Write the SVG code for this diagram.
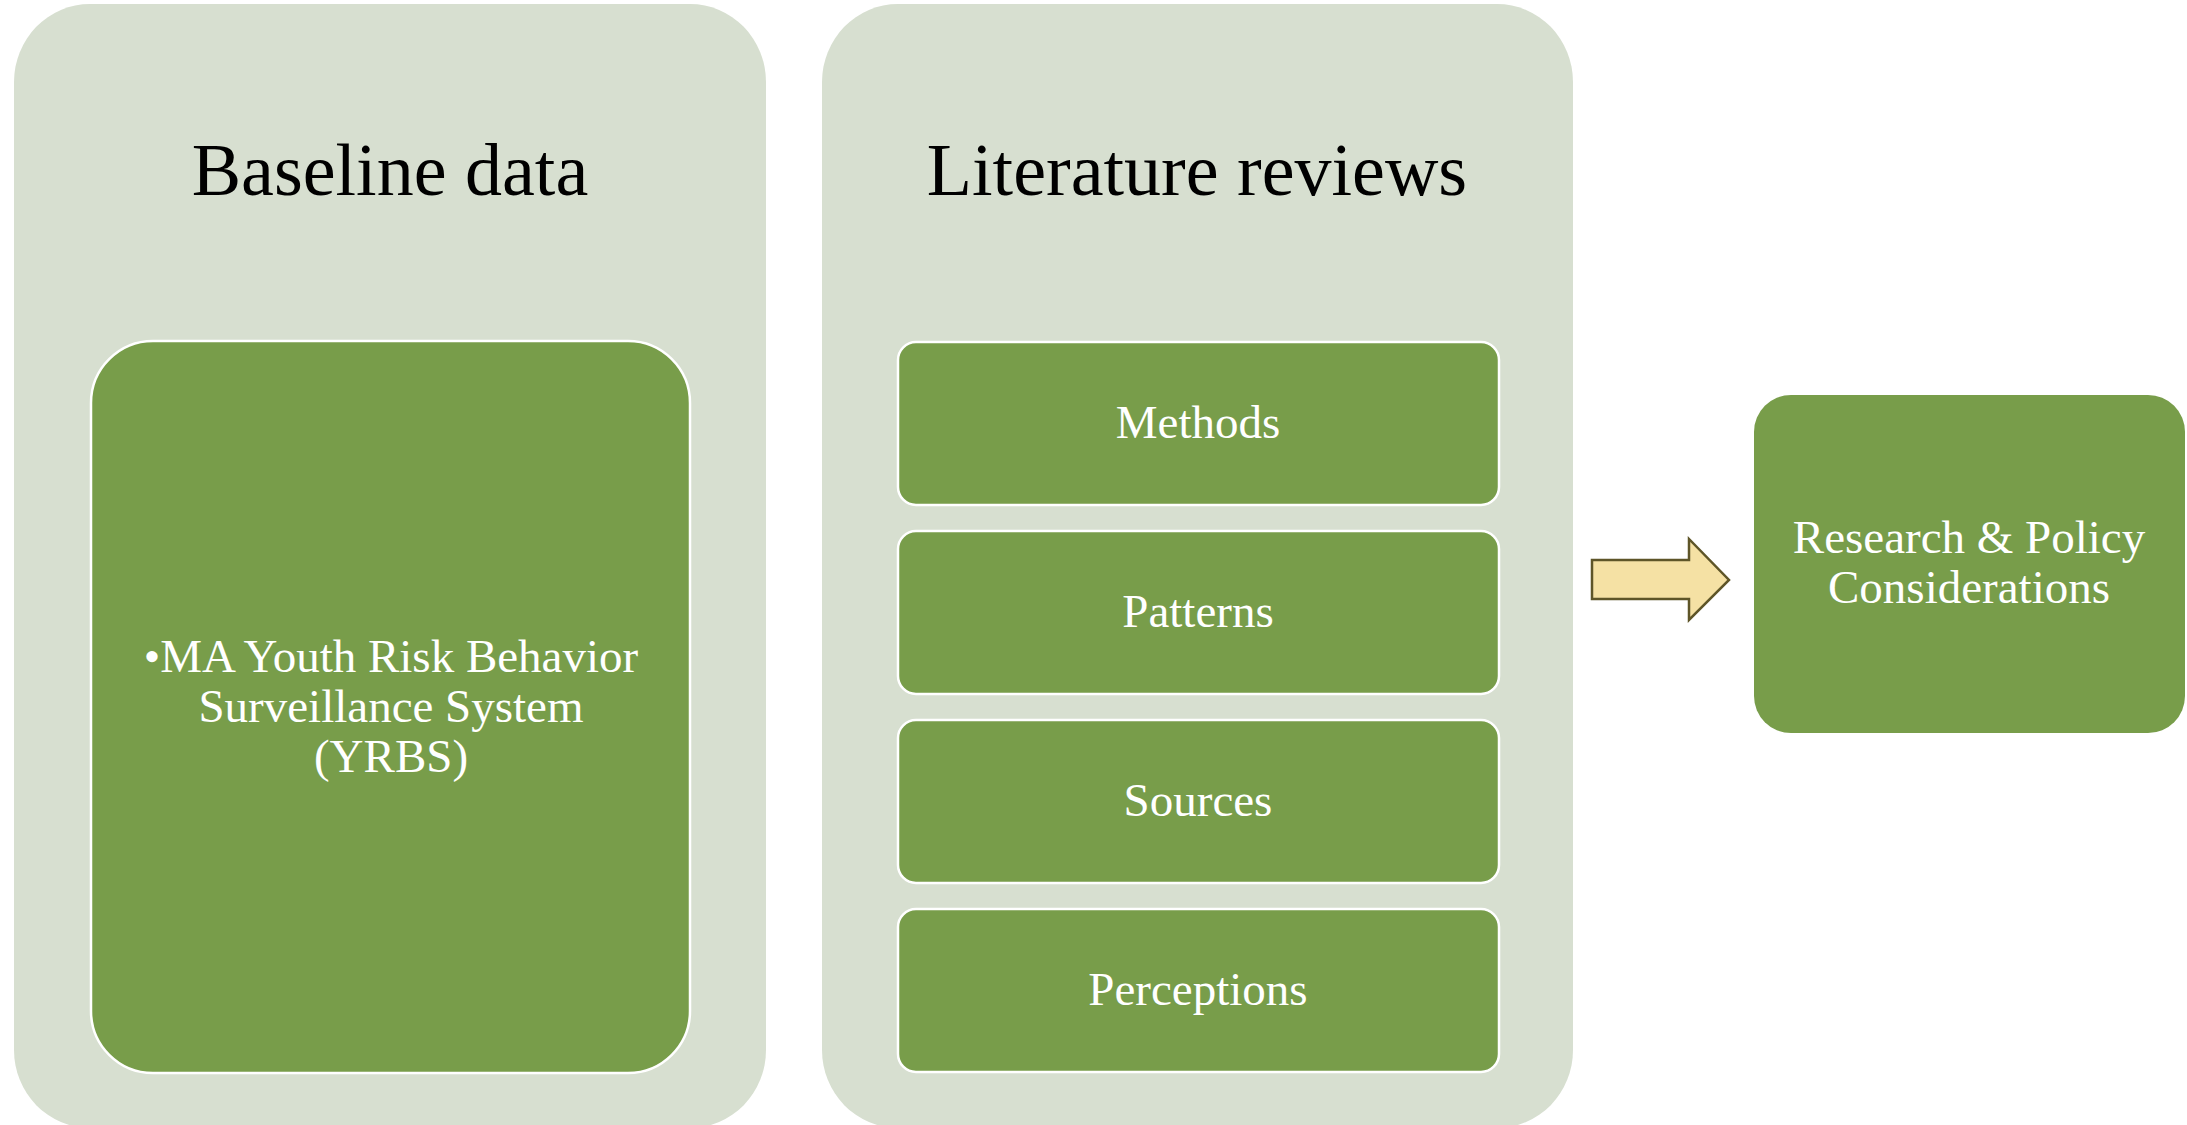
<svg xmlns="http://www.w3.org/2000/svg" width="2187" height="1125" viewBox="0 0 2187 1125">
<style>
.panel{fill:#D7DFD0;}
.inner{fill:#789D4A;stroke:#FFFFFF;stroke-width:2.5;}
.box{fill:#789D4A;}
.t{font-family:"Liberation Serif","Times New Roman",serif;text-anchor:middle;}
.title{font-size:74px;fill:#000000;}
.lbl{font-size:47px;fill:#FFFFFF;}
.arrow{fill:#F5E1A4;stroke:#5E5528;stroke-width:2.5;stroke-linejoin:miter;}
</style>
<rect width="2187" height="1125" fill="#FFFFFF"/>
<g id="baseline-panel">
<rect class="panel" x="14" y="4" width="752" height="1124" rx="76" ry="78"/>
<text class="t title" x="390" y="195">Baseline data</text>
</g>
<g id="yrbs">
<rect class="inner" x="91" y="341" width="599" height="732" rx="62" ry="62"/>
<text class="t lbl" x="391" y="672">•MA Youth Risk Behavior</text>
<text class="t lbl" x="391" y="722">Surveillance System</text>
<text class="t lbl" x="391" y="772">(YRBS)</text>
</g>
<g id="literature-panel">
<rect class="panel" x="822" y="4" width="751" height="1124" rx="76" ry="78"/>
<text class="t title" x="1197" y="195">Literature reviews</text>
</g>
<g id="methods">
<rect class="inner" x="898" y="342" width="601" height="163" rx="18" ry="18"/>
<text class="t lbl" x="1198" y="438">Methods</text>
</g>
<g id="patterns">
<rect class="inner" x="898" y="531" width="601" height="163" rx="18" ry="18"/>
<text class="t lbl" x="1198" y="627">Patterns</text>
</g>
<g id="sources">
<rect class="inner" x="898" y="720" width="601" height="163" rx="18" ry="18"/>
<text class="t lbl" x="1198" y="816">Sources</text>
</g>
<g id="perceptions">
<rect class="inner" x="898" y="909" width="601" height="163" rx="18" ry="18"/>
<text class="t lbl" x="1198" y="1005">Perceptions</text>
</g>
<g id="connectors">
<polygon class="arrow" points="1592,560 1689,560 1689,539 1729,580 1689,620 1689,599 1592,599"/>
</g>
<g id="research">
<rect class="box" x="1754" y="395" width="431" height="338" rx="37" ry="37"/>
<text class="t lbl" x="1969" y="553">Research &amp; Policy</text>
<text class="t lbl" x="1969" y="603">Considerations</text>
</g>
</svg>
